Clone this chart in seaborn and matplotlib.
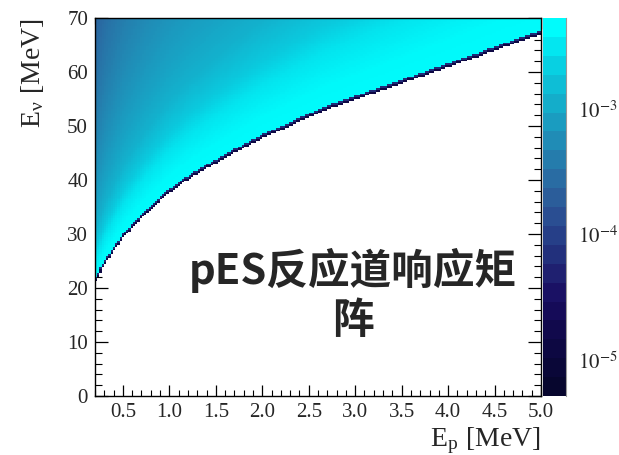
import numpy as np
import pandas as pd
import seaborn as sns
import matplotlib
matplotlib.use("Agg")
import matplotlib.pyplot as plt
import matplotlib.cm as mcm
from matplotlib.colors import LogNorm, ListedColormap, LinearSegmentedColormap
from matplotlib.ticker import FixedLocator, LogLocator, NullFormatter

# Threshold curve: lowest neutrino energy that can give a given visible proton energy
thr_ep = [0.2, 0.3, 0.5, 0.75, 1.0, 1.22, 1.5, 1.94, 2.66, 3.38, 4.09, 4.95, 5.0]
thr_enu = [21.0, 24.5, 29.5, 34.0, 37.8, 40.5, 43.3, 47.4, 53.0, 57.3, 61.6,
           66.9, 67.1]

# Response level versus E_nu / E_nu,threshold
ratio_pts = [1.0, 1.08, 1.2, 1.3, 1.45, 1.6, 1.85, 2.1, 2.4, 2.8, 3.35]
level_pts = [5.3e-3, 5.0e-3, 3.55e-3, 2.18e-3, 1.34e-3, 1.02e-3, 7.2e-4,
             5.45e-4, 4.12e-4, 3.12e-4, 2.21e-4]
edge_level = 1.2e-5        # partially filled bin right at the threshold
edge2_level = 6.0e-5       # bin just above it

z_min, z_max = 5.2e-6, 5.4e-3

# Binning of the response matrix
ep_lo, ep_hi, n_ep = 0.2, 5.0, 200
enu_lo, enu_hi, n_enu = 0.0, 70.0, 200
dep = (ep_hi - ep_lo) / n_ep
denu = (enu_hi - enu_lo) / n_enu
ep_c = ep_lo + dep * (np.arange(n_ep) + 0.5)
enu_lo_edges = enu_lo + denu * np.arange(n_enu)
enu_c = enu_lo_edges + 0.5 * denu

thr = np.interp(ep_c, thr_ep, thr_enu)
ENU, THR = np.meshgrid(enu_c, thr, indexing="ij")
LO, _ = np.meshgrid(enu_lo_edges, thr, indexing="ij")
r = ENU / THR
resp = 10 ** np.interp(r, ratio_pts, np.log10(level_pts))
edge = (LO < THR) & (LO + denu >= THR)
edge2 = (LO >= THR) & (LO - denu < THR)
resp[edge] = edge_level
resp[edge2] = edge2_level
resp[LO + denu < THR] = np.nan

df = pd.DataFrame(resp, index=enu_c, columns=ep_c)

palette = ["#07062e", "#0a0738", "#0d0842", "#11094c", "#150b58",
           "#1a1164", "#1f2070", "#22307c", "#263f88", "#2a4e92",
           "#2b5d9a", "#296ca3", "#257cac", "#208cb6", "#1a9cc0",
           "#14adca", "#0ebed6", "#08d0e2", "#03e6f0", "#00fcfc"]
cmap_bands = ListedColormap(palette)
cmap_smooth = LinearSegmentedColormap.from_list("pes", palette, N=256)
norm = LogNorm(vmin=z_min, vmax=z_max)

sns.set_style("white")
plt.rcParams["font.family"] = ["Liberation Serif", "DejaVu Serif"]
plt.rcParams["mathtext.fontset"] = "stix"

W, H = 619, 455
fig = plt.figure(figsize=(W / 100, H / 100), dpi=100)
ax = fig.add_axes([95 / W, 1 - 396 / H, (541 - 95) / W, (396 - 18) / H])
cax = fig.add_axes([543 / W, 1 - 396 / H, (566 - 543) / W, (396 - 18) / H])

sns.heatmap(df, ax=ax, cbar=False, cmap=cmap_smooth, norm=norm,
            xticklabels=False, yticklabels=False, rasterized=True)
ax.set_ylim(0, n_enu)
ax.set_xlim(0, n_ep)
ax.set_xlabel("")
ax.set_ylabel("")

for s in ax.spines.values():
    s.set_visible(True)
    s.set_color("black")
    s.set_linewidth(1.0)


def xpos(v):
    return (np.asarray(v) - ep_lo) / dep


def ypos(v):
    return (np.asarray(v) - enu_lo) / denu


xmaj = np.arange(0.5, 5.01, 0.5)
xmin = np.arange(0.2, 5.01, 0.1)
ymaj = np.arange(0, 71, 10)
ymin = np.arange(0, 71, 2)
ax.xaxis.set_major_locator(FixedLocator(xpos(xmaj)))
ax.xaxis.set_minor_locator(FixedLocator(xpos(xmin)))
ax.yaxis.set_major_locator(FixedLocator(ypos(ymaj)))
ax.yaxis.set_minor_locator(FixedLocator(ypos(ymin)))
ax.set_xticklabels([f"{v:.1f}" for v in xmaj])
ax.set_yticklabels([f"{v:d}" for v in ymaj])

ax.tick_params(axis="x", which="major", direction="in", length=8, width=0.9,
               top=True, bottom=True, labelsize=15, pad=5, color="black")
ax.tick_params(axis="x", which="minor", direction="in", length=4, width=0.8,
               top=True, bottom=True, color="black")
ax.tick_params(axis="y", which="major", direction="in", length=9.5, width=0.9,
               left=True, right=True, labelsize=15, pad=5, color="black")
ax.tick_params(axis="y", which="minor", direction="in", length=4.7, width=0.8,
               left=True, right=True, color="black")

# Colour scale drawn with the 20 contour levels
sm = mcm.ScalarMappable(norm=norm, cmap=cmap_bands)
cb = fig.colorbar(sm, cax=cax)
cb.outline.set_visible(False)
cax.yaxis.set_major_locator(FixedLocator([1e-5, 1e-4, 1e-3]))
cax.yaxis.set_minor_locator(LogLocator(base=10, subs=np.arange(2, 10)))
cax.yaxis.set_minor_formatter(NullFormatter())
cax.set_yticklabels([r"$10^{-5}$", r"$10^{-4}$", r"$10^{-3}$"])
cax.tick_params(axis="y", which="major", direction="in", length=10, width=0.9,
                labelsize=15, pad=9, right=True, left=False, color="black")
cax.tick_params(axis="y", which="minor", direction="in", length=5, width=0.8,
                right=True, left=False, color="black")
for s in cax.spines.values():
    s.set_visible(False)
cax.spines["right"].set_visible(True)
cax.spines["right"].set_color("#999999")

fig.text(32 / W, 1 - 18 / H, r"E$_{\mathregular{ν}}$ [MeV]", rotation=90,
         ha="center", va="top", fontsize=20)
fig.text(541 / W, 1 - 446 / H, r"E$_{\mathregular{p}}$ [MeV]",
         ha="right", va="baseline", fontsize=20)

fig.text(353 / W, 1 - 295 / H, "pES反应道响应矩\n阵", ha="center", va="center",
         fontsize=30, fontweight="bold", linespacing=1.2,
         family=["Noto Sans CJK SC", "DejaVu Sans"])

fig.savefig("out.png", dpi=100)
